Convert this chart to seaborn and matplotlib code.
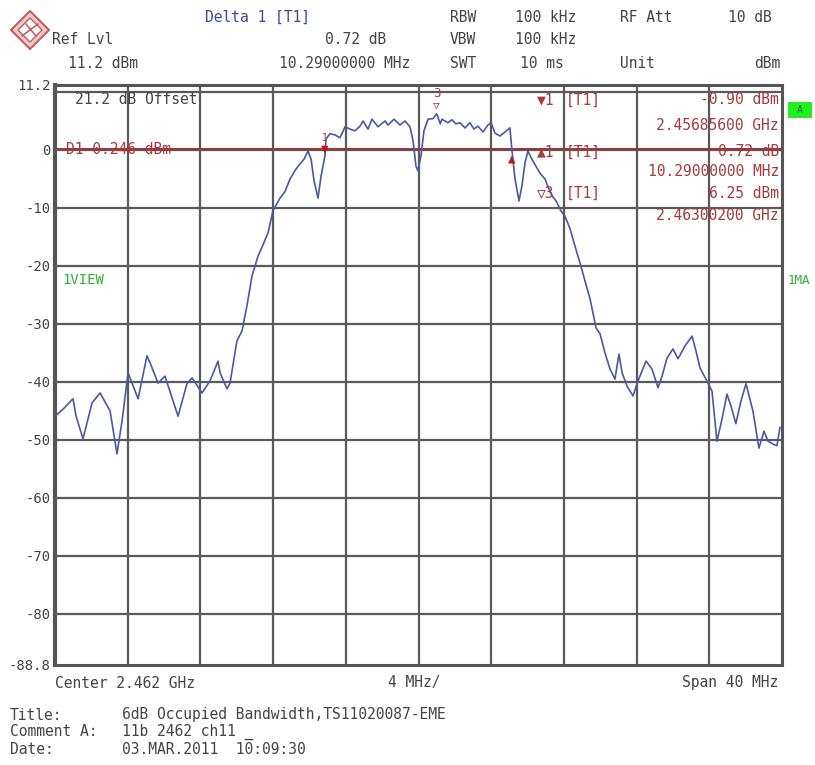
import matplotlib
matplotlib.use("Agg")
import matplotlib.pyplot as plt
from matplotlib.patches import Polygon, Rectangle
import seaborn as sns
import pandas as pd

# ---------------- data ----------------
freq_offset_mhz = [-20.00, -19.56, -19.01, -18.84, -18.46, -17.96, -17.52, -16.97, -16.59, -16.31,
                   -15.98, -15.43, -14.94, -14.77, -14.33, -13.95, -13.23, -12.74, -12.46, -11.91,
                   -11.47, -11.03, -10.92, -10.54, -10.37, -9.99, -9.71, -9.44, -9.16, -8.83,
                   -8.56, -8.28, -8.01, -7.62, -7.35, -7.07, -6.74, -6.52, -6.30, -6.08,
                   -5.91, -5.75, -5.53, -5.36, -5.14, -5.09, -4.87, -4.59, -4.32, -4.04,
                   -3.77, -3.49, -3.22, -3.05, -2.78, -2.56, -2.23, -1.84, -1.68, -1.35,
                   -1.02, -0.74, -0.47, -0.30, -0.14, -0.03, 0.14, 0.30, 0.52, 0.80,
                   1.00, 1.20, 1.29, 1.62, 1.84, 2.06, 2.28, 2.56, 2.83, 3.05,
                   3.27, 3.55, 3.82, 3.99, 4.21, 4.48, 4.76, 5.03, 5.146, 5.31,
                   5.53, 5.69, 5.86, 6.02, 6.24, 6.46, 6.68, 6.96, 7.13, 7.35,
                   7.57, 7.84, 8.06, 8.34, 8.61, 8.89, 9.16, 9.44, 9.77, 9.99,
                   10.26, 10.54, 10.81, 11.03, 11.20, 11.47, 11.80, 12.08, 12.52, 12.85,
                   13.18, 13.40, 13.67, 14.00, 14.28, 14.66, 15.05, 15.27, 15.49, 15.93,
                   16.15, 16.42, 16.70, 16.97, 17.19, 17.46, 17.74, 18.02, 18.40, 18.73,
                   19.01, 19.23, 19.50, 19.72, 19.89]
level_dbm = [-45.9, -44.7, -42.9, -45.9, -49.8, -43.6, -41.9, -45.0, -52.4, -46.7,
             -38.4, -42.9, -35.5, -36.7, -40.2, -39.0, -45.9, -40.3, -39.3, -41.9,
             -39.8, -36.4, -38.4, -41.2, -40.2, -32.9, -31.2, -26.9, -21.7, -18.3,
             -16.4, -14.3, -10.5, -8.3, -7.2, -5.0, -3.3, -2.4, -1.6, -0.2,
             -1.6, -5.3, -8.3, -4.5, -0.9, 1.9, 2.8, 2.6, 2.1, 4.0,
             3.6, 3.3, 4.1, 5.0, 3.6, 5.3, 4.0, 5.0, 4.3, 5.3,
             4.3, 5.0, 4.0, 1.6, -2.8, -3.6, -1.0, 3.3, 5.3, 5.4,
             6.25, 4.5, 5.3, 4.7, 5.2, 4.5, 4.7, 3.8, 4.7, 3.6,
             4.1, 3.1, 4.3, 4.7, 2.9, 2.4, 3.1, 3.8, -0.18, -5.0,
             -8.8, -6.2, -2.2, -0.2, -1.6, -2.8, -4.0, -5.0, -6.4, -7.9,
             -8.8, -10.5, -11.4, -13.6, -16.6, -19.5, -22.6, -25.7, -30.7, -31.7,
             -35.0, -37.8, -39.5, -35.2, -38.4, -40.7, -42.4, -39.8, -36.4, -37.8,
             -41.0, -39.0, -35.9, -34.3, -36.0, -33.8, -32.1, -34.7, -37.6, -40.2,
             -41.6, -50.2, -46.4, -42.1, -44.1, -47.2, -43.3, -40.3, -45.0, -51.4,
             -48.5, -50.2, -50.7, -51.0, -47.8]

ytick_values = [11.2, 0, -10, -20, -30, -40, -50, -60, -70, -80, -88.8]
ytick_labels = ["11.2", "0", "-10", "-20", "-30", "-40", "-50", "-60", "-70", "-80", "-88.8"]
ygrid_values = [10, 0, -10, -20, -30, -40, -50, -60, -70, -80]
xgrid_values = [-16, -12, -8, -4, 0, 4, 8, 12, 16]

marker1_freq, marker1_level = -5.144, -0.90
delta1_freq, delta1_level = 5.146, -0.18
marker3_freq, marker3_level = 1.002, 6.25
display_line = 0.246

df = pd.DataFrame({"freq": freq_offset_mhz, "level": level_dbm})

# ---------------- figure ----------------
sns.set_style("white")
plt.rcParams['font.family'] = ['DejaVu Sans Mono', 'DejaVu Sans']

W, H = 815, 765
fig = plt.figure(figsize=(W / 100, H / 100), dpi=100)
fig.patch.set_facecolor("white")


def P(x, y):
    return x / W, 1 - y / H


ax_left, ax_right, ax_top, ax_bot = 55, 782, 85, 665
ax = fig.add_axes([ax_left / W, 1 - ax_bot / H, (ax_right - ax_left) / W, (ax_bot - ax_top) / H])

grid_col = "#5a5a5a"
for g in ygrid_values:
    ax.axhline(g, color=grid_col, lw=1.6, zorder=1)
for g in xgrid_values:
    ax.axvline(g, color=grid_col, lw=1.6, zorder=1)

# display line D1
ax.axhline(display_line, color="#a03434", lw=1.4, zorder=2)

sns.lineplot(data=df, x="freq", y="level", ax=ax, color="#4a58a8", lw=1.2,
             zorder=3, legend=False)

ax.set_xlim(-20, 20)
ax.set_ylim(-88.8, 11.2)
ax.set_yticks(ytick_values)
ax.set_yticklabels(ytick_labels, fontsize=10, color="#444444")
ax.set_xticks([])
ax.tick_params(axis="y", length=0, pad=3)
ax.set_xlabel("")
ax.set_ylabel("")
for s in ax.spines.values():
    s.set_color("#555555")
    s.set_linewidth(2.2)
ax.spines["left"].set_linewidth(3)

red = "#a83a3a"
# marker 1
ax.annotate("▼", xy=(marker1_freq, marker1_level), xytext=(0, 0), textcoords="offset points",
            ha="center", va="bottom", color="#cc1010", fontsize=9, zorder=5)
ax.annotate("1", xy=(marker1_freq, marker1_level), xytext=(0, 9), textcoords="offset points",
            ha="center", va="bottom", color=red, fontsize=7, zorder=5)
# delta 1
ax.annotate("▲", xy=(delta1_freq, delta1_level), xytext=(0, -1), textcoords="offset points",
            ha="center", va="top", color="#cc1010", fontsize=9, zorder=5)
# marker 3
ax.annotate("▽", xy=(marker3_freq, marker3_level), xytext=(0, 2), textcoords="offset points",
            ha="center", va="bottom", color=red, fontsize=8, zorder=5)
ax.annotate("3", xy=(marker3_freq, marker3_level), xytext=(0, 10), textcoords="offset points",
            ha="center", va="bottom", color=red, fontsize=9, zorder=5)

# in-plot texts
fs = 10.5
dark = "#444444"
fig.text(*P(75, 99), "21.2 dB Offset", fontsize=fs, color=dark, va="center")
fig.text(*P(66, 149), "D1 0.246 dBm", fontsize=fs, color=red, va="center")
fig.text(*P(62, 280), "1VIEW", fontsize=10, color="#30b030", va="center")
fig.text(*P(788, 280), "1MA", fontsize=9, color="#30b030", va="center")
fig.patches.append(Rectangle(P(788, 118), 24 / W, 16 / H, transform=fig.transFigure,
                             facecolor="#22ee22", edgecolor="none"))
fig.text(*P(800, 110), "A", fontsize=7, color="#207020", ha="center", va="center")

# marker info block
rows = [(100, "▼1", "[T1]", "-0.90 dBm"),
        (125, "", "", "2.45685600 GHz"),
        (152, "▲1", "[T1]", "0.72 dB"),
        (171, "", "", "10.29000000 MHz"),
        (193, "▽3", "[T1]", "6.25 dBm"),
        (216, "", "", "2.46300200 GHz")]
for y, sym, tr, val in rows:
    if sym:
        fig.text(*P(537, y), sym, fontsize=fs, color=red, va="center")
        fig.text(*P(566, y), tr, fontsize=fs, color=red, va="center")
    fig.text(*P(779, y), val, fontsize=fs, color=red, va="center", ha="right")

# header
hfs = 10.5
fig.text(*P(205, 17), "Delta 1 [T1]", fontsize=hfs, color="#3a4a9a", va="center")
fig.text(*P(52, 40), "Ref Lvl", fontsize=hfs, color=dark, va="center")
fig.text(*P(68, 63), "11.2 dBm", fontsize=hfs, color=dark, va="center")
fig.text(*P(386, 40), "0.72 dB", fontsize=hfs, color=dark, va="center", ha="right")
fig.text(*P(410, 63), "10.29000000 MHz", fontsize=hfs, color=dark, va="center", ha="right")
fig.text(*P(450, 17), "RBW", fontsize=hfs, color=dark, va="center")
fig.text(*P(515, 17), "100 kHz", fontsize=hfs, color=dark, va="center")
fig.text(*P(620, 17), "RF Att", fontsize=hfs, color=dark, va="center")
fig.text(*P(772, 17), "10 dB", fontsize=hfs, color=dark, va="center", ha="right")
fig.text(*P(450, 40), "VBW", fontsize=hfs, color=dark, va="center")
fig.text(*P(515, 40), "100 kHz", fontsize=hfs, color=dark, va="center")
fig.text(*P(450, 63), "SWT", fontsize=hfs, color=dark, va="center")
fig.text(*P(520, 63), "10 ms", fontsize=hfs, color=dark, va="center")
fig.text(*P(620, 63), "Unit", fontsize=hfs, color=dark, va="center")
fig.text(*P(780, 63), "dBm", fontsize=hfs, color=dark, va="center", ha="right")

# R&S logo diamond
cx, cy, r = 30, 30, 19
outer = [P(cx, cy - r), P(cx + r, cy), P(cx, cy + r), P(cx - r, cy)]
fig.patches.append(Polygon(outer, closed=True, transform=fig.transFigure,
                           facecolor="#f4c8c8", edgecolor="#c06060", lw=1.5))
ri = 12
inner = [P(cx, cy - ri), P(cx + ri, cy), P(cx, cy + ri), P(cx - ri, cy)]
fig.patches.append(Polygon(inner, closed=True, transform=fig.transFigure,
                           facecolor="white", edgecolor="#c06060", lw=1.0))
fig.lines.append(plt.Line2D([P(cx - 8, cy + 6)[0], P(cx + 8, cy - 6)[0]],
                            [P(cx - 8, cy + 6)[1], P(cx + 8, cy - 6)[1]],
                            transform=fig.transFigure, color="#c06060", lw=1.2))
fig.lines.append(plt.Line2D([P(cx - 4, cy - 6)[0], P(cx + 6, cy + 6)[0]],
                            [P(cx - 4, cy - 6)[1], P(cx + 6, cy + 6)[1]],
                            transform=fig.transFigure, color="#c06060", lw=1.2))

# footer
fig.text(*P(55, 683), "Center 2.462 GHz", fontsize=hfs, color=dark, va="center")
fig.text(*P(388, 683), "4 MHz/", fontsize=hfs, color=dark, va="center")
fig.text(*P(778, 683), "Span 40 MHz", fontsize=hfs, color=dark, va="center", ha="right")
fig.text(*P(10, 715), "Title:", fontsize=hfs, color=dark, va="center")
fig.text(*P(122, 715), "6dB Occupied Bandwidth,TS11020087-EME", fontsize=hfs, color=dark, va="center")
fig.text(*P(10, 732), "Comment A:", fontsize=hfs, color=dark, va="center")
fig.text(*P(122, 732), "11b 2462 ch11 _", fontsize=hfs, color=dark, va="center")
fig.text(*P(10, 749), "Date:", fontsize=hfs, color=dark, va="center")
fig.text(*P(122, 749), "03.MAR.2011  10:09:30", fontsize=hfs, color=dark, va="center")

fig.savefig("out.png", dpi=100, facecolor="white")
